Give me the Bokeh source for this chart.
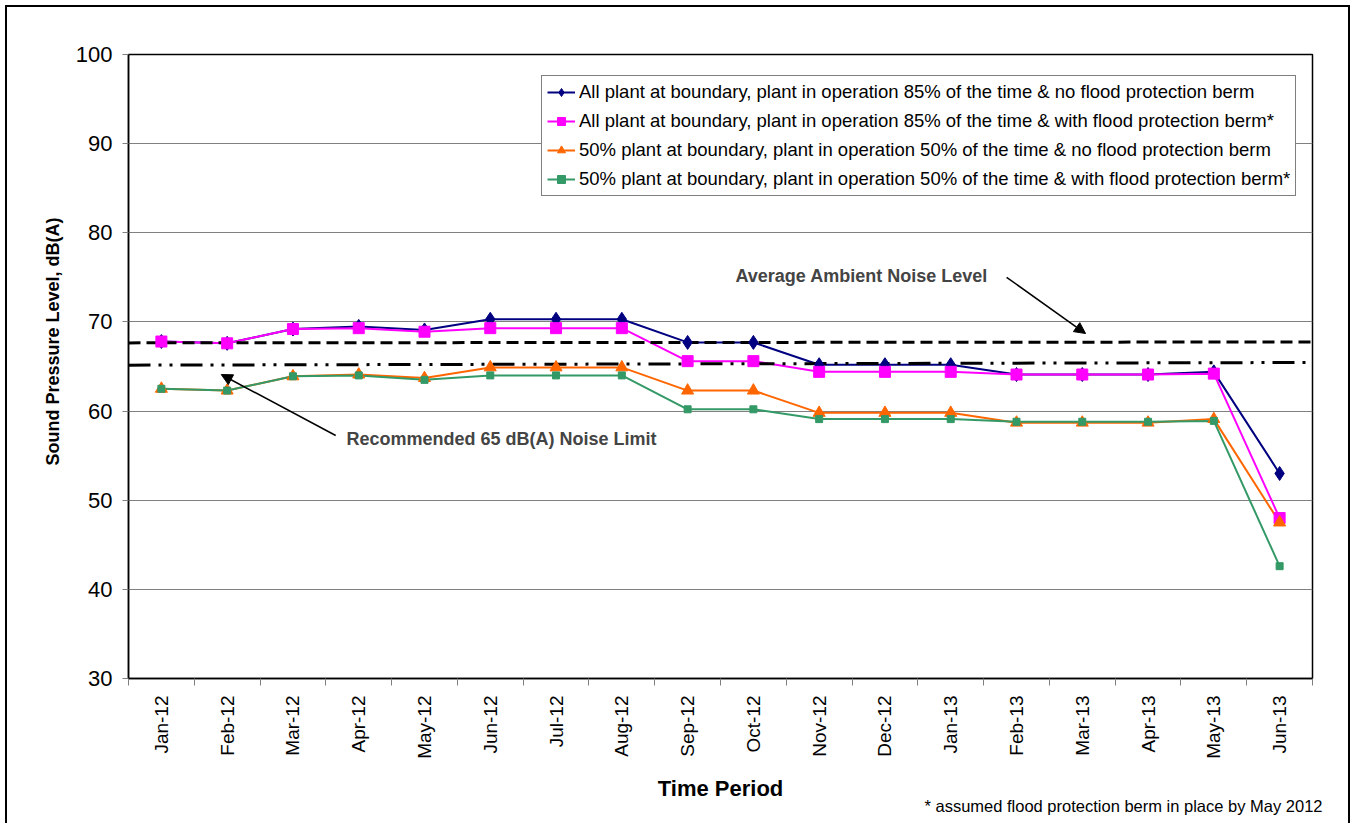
from math import pi
from bokeh.plotting import figure
from bokeh.models import Range1d, FixedTicker, Label, Arrow, NormalHead, Title
from bokeh.embed import file_html
from bokeh.resources import INLINE

months = ["Jan-12", "Feb-12", "Mar-12", "Apr-12", "May-12", "Jun-12", "Jul-12", "Aug-12", "Sep-12",
          "Oct-12", "Nov-12", "Dec-12", "Jan-13", "Feb-13", "Mar-13", "Apr-13", "May-13", "Jun-13"]

all_85_no_berm = [67.8, 67.6, 69.2, 69.5, 69.1, 70.3, 70.3, 70.3, 67.7, 67.7, 65.2, 65.2, 65.2, 64.1, 64.1, 64.1, 64.4, 53.0]
all_85_berm = [67.8, 67.6, 69.2, 69.3, 68.9, 69.3, 69.3, 69.3, 65.6, 65.6, 64.4, 64.4, 64.4, 64.1, 64.1, 64.1, 64.2, 48.0]
half_50_no_berm = [62.5, 62.3, 63.9, 64.1, 63.7, 64.9, 64.9, 64.9, 62.3, 62.3, 59.8, 59.8, 59.8, 58.7, 58.7, 58.7, 59.1, 47.5]
half_50_berm = [62.5, 62.3, 63.9, 64.0, 63.5, 64.0, 64.0, 64.0, 60.2, 60.2, 59.1, 59.1, 59.1, 58.8, 58.8, 58.8, 58.9, 42.6]

series_labels = [
    "All plant at boundary, plant in operation 85% of the time & no flood protection berm",
    "All plant at boundary, plant in operation 85% of the time & with flood protection berm*",
    "50% plant at boundary, plant in operation 50% of the time & no flood protection berm",
    "50% plant at boundary, plant in operation 50% of the time & with flood protection berm*",
]

ambient_y = [67.65, 67.75]      # Average ambient noise level (dashed)
limit_y = [65.15, 65.45]        # Recommended 65 dB(A) noise limit (dash-dot-dot)
y_ticks = [30, 40, 50, 60, 70, 80, 90, 100]

FONT = "Liberation Sans"
n = len(months)
x = [i + 0.5 for i in range(n)]
ref_x = [0, n]

p = figure(width=1345, height=818, output_backend="svg", toolbar_location=None,
           x_range=Range1d(0, n), y_range=Range1d(30, 100),
           min_border_left=121, min_border_right=40, min_border_top=47, min_border_bottom=147)
p.styles = {"border-left": "2px solid black", "border-top": "2px solid black",
            "border-right": "2px solid black", "margin-left": "5px", "margin-top": "5px"}
p.outline_line_color = "black"
p.outline_line_width = 1.5
p.background_fill_color = "white"
p.border_fill_color = "white"

# x axis
p.xaxis.ticker = FixedTicker(ticks=x, minor_ticks=list(range(n + 1)))
p.xaxis.major_label_overrides = {xi: m for xi, m in zip(x, months)}
p.xaxis.major_label_orientation = pi / 2
p.xaxis.major_tick_line_color = None
p.xaxis.major_tick_out = 7
p.xaxis.major_tick_in = 0
p.xaxis.minor_tick_line_color = "#808080"
p.xaxis.minor_tick_out = 7
p.xaxis.minor_tick_in = 0
p.xaxis.major_label_standoff = 10
p.xaxis.major_label_text_font = FONT
p.xaxis.major_label_text_font_size = "19px"
p.xaxis.major_label_text_color = "black"
p.xaxis.axis_line_color = "black"
p.xaxis.axis_line_width = 1.5
p.xaxis.axis_label = "Time Period"
p.xaxis.axis_label_text_font = FONT
p.xaxis.axis_label_text_font_size = "22px"
p.xaxis.axis_label_text_font_style = "bold"
p.xaxis.axis_label_text_color = "black"
p.xaxis.axis_label_standoff = 14

# y axis
p.yaxis.ticker = FixedTicker(ticks=y_ticks)
p.yaxis.major_tick_line_color = "#808080"
p.yaxis.major_tick_out = 6
p.yaxis.major_tick_in = 0
p.yaxis.minor_tick_line_color = None
p.yaxis.major_label_standoff = 10
p.yaxis.major_label_text_font = FONT
p.yaxis.major_label_text_font_size = "22px"
p.yaxis.major_label_text_color = "black"
p.yaxis.axis_line_color = "black"
p.yaxis.axis_line_width = 1.5

# y axis title (as a left-side title so it can sit slightly above centre, as in the original)
p.add_layout(Title(text="Sound Pressure Level, dB(A)", align="left", offset=213,
                   text_font=FONT, text_font_size="18px", text_font_style="bold",
                   text_color="black", standoff=20), "left")

p.xgrid.visible = False
p.ygrid.ticker = FixedTicker(ticks=y_ticks)
p.ygrid.grid_line_color = "#808080"
p.ygrid.grid_line_width = 1

styles = [
    (all_85_no_berm, "#000080", "diamond", 14),
    (all_85_berm, "#FF00FF", "square", 11),
    (half_50_no_berm, "#FF6600", "triangle", 12),
    (half_50_berm, "#339966", "square", 7),
]

for (vals, color, marker, size), lab in zip(styles, series_labels):
    p.line(x, vals, line_color=color, line_width=2, legend_label=lab)

# reference lines
p.line(ref_x, ambient_y, line_color="black", line_width=3, line_dash="12 6")
p.line(ref_x, limit_y, line_color="black", line_width=3, line_dash="22 8 3 8 3 8")

for (vals, color, marker, size), lab in zip(styles, series_labels):
    p.scatter(x, vals, marker=marker, size=size, fill_color=color, line_color=color,
              legend_label=lab)

leg = p.legend[0]
leg.location = (413, 482)
leg.label_text_font = FONT
leg.label_text_font_size = "18.5px"
leg.label_text_color = "black"
leg.label_height = 20
leg.glyph_height = 20
leg.glyph_width = 28
leg.label_standoff = 4
leg.spacing = 7
leg.padding = 5
leg.margin = 0
leg.border_line_color = "black"
leg.border_line_width = 1
leg.background_fill_alpha = 1

# annotations
p.add_layout(Label(x=9.228, y=75.1, text="Average Ambient Noise Level", text_font=FONT,
                   text_font_size="18px", text_font_style="bold", text_baseline="middle"))
p.add_layout(Arrow(end=NormalHead(size=11, fill_color="black", line_color="black"),
                   x_start=13.35, y_start=75.0, x_end=14.55, y_end=68.7,
                   line_color="black", line_width=1.5))
p.add_layout(Label(x=3.314, y=56.92, text="Recommended 65 dB(A) Noise Limit", text_font=FONT,
                   text_font_size="18px", text_font_style="bold", text_baseline="middle"))
p.add_layout(Arrow(end=NormalHead(size=11, fill_color="black", line_color="black"),
                   x_start=3.15, y_start=57.26, x_end=1.41, y_end=64.1,
                   line_color="black", line_width=1.5))

# footnote
p.add_layout(Title(text="* assumed flood protection berm in place by May 2012", align="right",
                   text_font=FONT, text_font_size="16.5px", text_font_style="normal",
                   text_color="black", standoff=-23, offset=-10), "below")

open("out.html", "w").write(file_html(p, INLINE))
